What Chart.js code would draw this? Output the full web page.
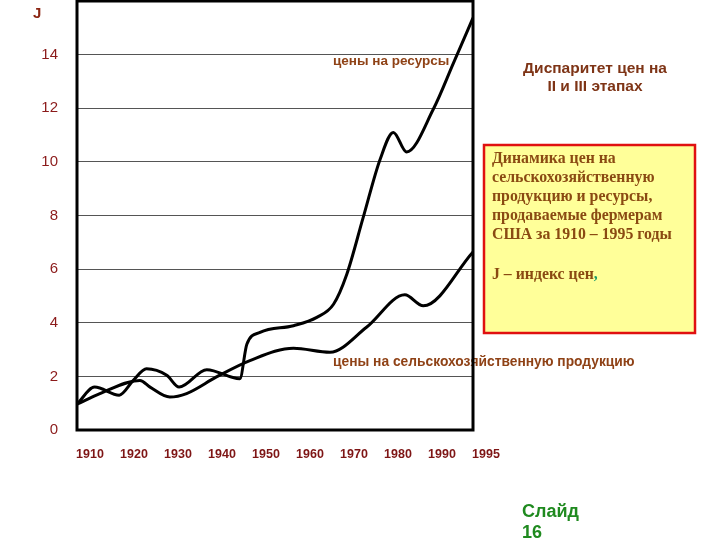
<!DOCTYPE html>
<html>
<head>
<meta charset="utf-8">
<script src="https://cdn.jsdelivr.net/npm/chart.js@4/dist/chart.umd.min.js"></script>
<style>
  html, body { margin: 0; background: #fff; }
  #wrap { width: 720px; height: 540px; position: relative; }
</style>
</head>
<body>
<div id="wrap"><canvas id="chart"></canvas></div>
<script>
// x axis labels (evenly spaced on the slide, last step is only 5 years)
const years = [1910, 1920, 1930, 1940, 1950, 1960, 1970, 1980, 1990, 1995];
const yTicks = [0, 2, 4, 6, 8, 10, 12, 14];

// цены на ресурсы
const resYears  = [1910, 1914, 1919.6, 1922.8, 1925.8, 1930.4, 1933.2, 1939.5, 1947, 1948.6, 1951.6, 1959.2, 1964.5, 1968.3, 1971.3, 1975, 1978.9, 1981.9, 1984.9, 1990.5, 1992.8, 1995];
const resValues = [0.96, 1.6, 1.3, 1.85, 2.28, 2.04, 1.6, 2.25, 1.91, 3.2, 3.64, 3.89, 4.2, 4.69, 5.8, 7.9, 10.1, 11.1, 10.37, 11.97, 13.7, 15.37];

// цены на сельскохозяйственную продукцию
const prodYears  = [1910, 1915.2, 1924.3, 1926.6, 1931.1, 1934.9, 1941.7, 1949.3, 1959.2, 1967.5, 1975.8, 1984.5, 1988.7, 1995];
const prodValues = [0.96, 1.36, 1.85, 1.6, 1.23, 1.36, 1.98, 2.59, 3.05, 2.9, 3.83, 5.04, 4.63, 6.64];

// year -> position on the evenly spaced label axis
function toPos(y) {
  for (let i = 0; i < years.length - 1; i++) {
    if (y <= years[i + 1]) return i + (y - years[i]) / (years[i + 1] - years[i]);
  }
  return years.length - 1;
}
const toPoints = (xs, ys) => xs.map((x, i) => ({ x: toPos(x), y: ys[i] }));

const slideText = {
  id: 'slideText',
  beforeDraw(chart) {
    const ctx = chart.ctx;
    ctx.save();
    ctx.textBaseline = 'middle';
    ctx.fillStyle = '#8f4216';
    ctx.font = 'bold 13.5px "Liberation Sans", Arial';
    ctx.fillText('цены на ресурсы', 333, 61);
    ctx.font = 'bold 13.8px "Liberation Sans", Arial';
    ctx.fillText('цены на сельскохозяйственную продукцию', 333, 362);

    ctx.fillStyle = '#8b2512';
    ctx.font = 'bold 15px "Liberation Sans", Arial';
    ctx.fillText('J', 33, 14);

    ctx.textAlign = 'center';
    ctx.fillStyle = '#7e3416';
    ctx.font = 'bold 15.5px "Liberation Sans", Arial';
    ctx.fillText('Диспаритет цен на', 595, 69);
    ctx.fillText('II и III этапах', 595, 87);

    // yellow note box
    ctx.fillStyle = '#ffff99';
    ctx.fillRect(484, 145, 211, 188);
    ctx.strokeStyle = '#e01010';
    ctx.lineWidth = 2.5;
    ctx.strokeRect(484, 145, 211, 188);
    ctx.textAlign = 'left';
    ctx.fillStyle = '#8a4a12';
    ctx.font = 'bold 15.8px "Liberation Serif", "Times New Roman"';
    const lines = ['Динамика цен на', 'сельскохозяйственную', 'продукцию и ресурсы,', 'продаваемые фермерам', 'США за 1910 – 1995 годы'];
    lines.forEach((t, i) => ctx.fillText(t, 492, 159 + i * 19));
    const jt = 'J – индекс цен';
    ctx.fillText(jt, 492, 275);
    ctx.fillStyle = '#1a9a6a';
    ctx.fillText(',', 492 + ctx.measureText(jt).width, 275);

    ctx.fillStyle = '#1f8a1f';
    ctx.textBaseline = 'alphabetic';
    ctx.font = 'bold 18px "Liberation Sans", Arial';
    ctx.fillText('Слайд', 522, 517);
    ctx.fillText('16', 522, 538);
    ctx.restore();
  },
  afterDatasetsDraw(chart) {
    const { ctx, chartArea: a } = chart;
    ctx.save();
    ctx.strokeStyle = '#000';
    ctx.lineWidth = 3;
    ctx.strokeRect(a.left, a.top, a.right - a.left, a.bottom - a.top);
    ctx.restore();
  }
};

new Chart('chart', {
  type: 'line',
  data: {
    datasets: [
      { label: 'цены на ресурсы', data: toPoints(resYears, resValues) },
      { label: 'цены на сельскохозяйственную продукцию', data: toPoints(prodYears, prodValues) }
    ]
  },
  options: {
    responsive: true,
    maintainAspectRatio: false,
    devicePixelRatio: 1,
    animation: false,
    layout: { padding: { left: 0, right: 247, top: 1, bottom: 0 } },
    elements: {
      line: { borderColor: '#000', borderWidth: 3, cubicInterpolationMode: 'monotone', fill: false },
      point: { radius: 0 }
    },
    plugins: { legend: { display: false }, tooltip: { enabled: false } },
    scales: {
      x: {
        type: 'linear',
        min: 0,
        max: years.length - 1,
        grid: { display: false },
        border: { display: false },
        afterFit: s => { s.height = 110; s.paddingLeft = 0; s.paddingRight = 0; },
        ticks: {
          stepSize: 1,
          autoSkip: false,
          maxRotation: 0,
          labelOffset: 13,
          padding: 9,
          color: '#7e1515',
          font: { family: '"Liberation Sans", Arial', size: 12.5, weight: 'bold' },
          callback: v => years[v]
        }
      },
      y: {
        min: 0,
        max: 16,
        afterFit: s => { s.width = 77; s.paddingTop = 0; s.paddingBottom = 0; },
        afterBuildTicks: s => { s.ticks = yTicks.map(v => ({ value: v })); },
        border: { display: false },
        grid: { color: '#555', lineWidth: 1, drawTicks: false },
        ticks: {
          padding: 19,
          color: '#8b1a1a',
          font: { family: '"Liberation Sans", Arial', size: 15 }
        }
      }
    }
  },
  plugins: [slideText]
});
</script>
</body>
</html>
